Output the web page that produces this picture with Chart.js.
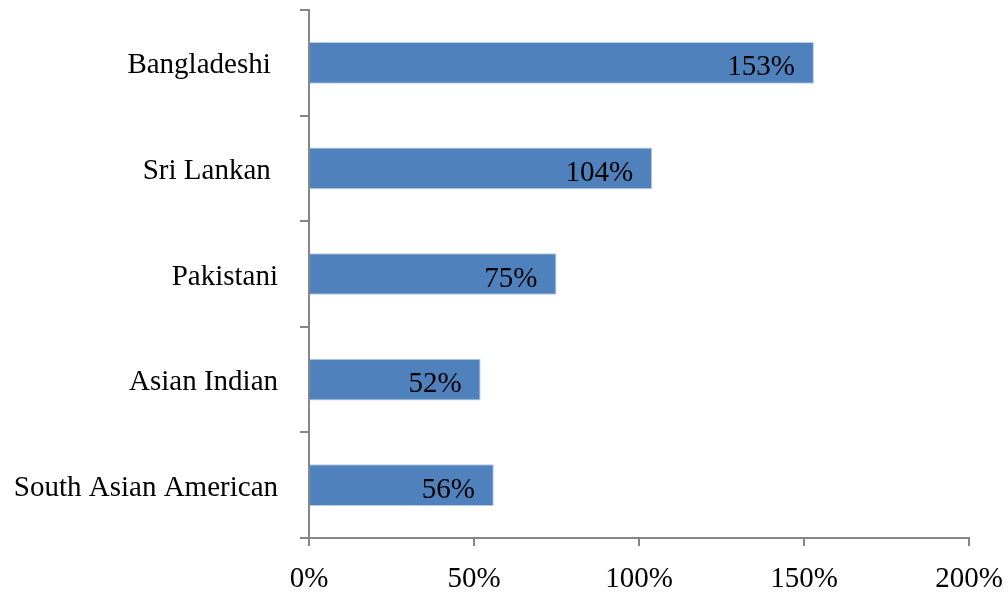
<!DOCTYPE html>
<html>
<head>
<meta charset="utf-8">
<script src="https://cdn.jsdelivr.net/npm/chart.js@4/dist/chart.umd.min.js"></script>
<style>
  html, body { margin: 0; padding: 0; background: #ffffff; }
  #wrap { width: 1008px; height: 592px; position: relative; }
</style>
</head>
<body>
<div id="wrap"><canvas id="c" width="1008" height="592"></canvas></div>
<script>
const categories = ["Bangladeshi ", "Sri Lankan ", "Pakistani", "Asian Indian", "South Asian American"];
const values = [153, 104, 75, 52, 56];
const xTicks = [0, 50, 100, 150, 200];

const FONT = "'Liberation Serif', 'DejaVu Serif', serif";
const AXIS = "#868686";

const valueLabels = {
  id: 'valueLabels',
  afterDatasetsDraw(chart) {
    const ctx = chart.ctx;
    const meta = chart.getDatasetMeta(0);
    ctx.save();
    ctx.font = "29px " + FONT;
    ctx.fillStyle = "#000000";
    ctx.textAlign = "right";
    ctx.textBaseline = "middle";
    meta.data.forEach((bar, i) => {
      ctx.fillText(values[i] + "%", bar.x - 19, bar.y + 5);
    });
    ctx.restore();
  }
};

new Chart(document.getElementById('c'), {
  type: 'bar',
  data: {
    labels: categories,
    datasets: [{
      data: values,
      backgroundColor: "#4F81BD",
      borderColor: "#B9CDE5",
      borderWidth: 1,
      borderSkipped: 'start',
      barPercentage: 0.395,
      categoryPercentage: 1.0
    }]
  },
  options: {
    indexAxis: 'y',
    responsive: false,
    animation: false,
    devicePixelRatio: 1,
    layout: { padding: { top: 10, right: 39, left: 0, bottom: 0 } },
    plugins: { legend: { display: false }, tooltip: { enabled: false } },
    scales: {
      x: {
        min: 0, max: 200,
        afterBuildTicks(axis) { axis.ticks = xTicks.map(v => ({ value: v })); },
        afterFit(axis) { axis.height = 54; axis.paddingLeft = 0; axis.paddingRight = 0; },
        border: { color: AXIS, width: 2 },
        grid: { drawOnChartArea: false, drawTicks: true, tickLength: 8, color: AXIS, lineWidth: 2 },
        ticks: {
          padding: 16,
          color: "#000000",
          font: { family: FONT, size: 29 },
          callback: (v) => v + "%",
          maxRotation: 0
        }
      },
      y: {
        afterFit(axis) { axis.width = 309; axis.paddingTop = 0; axis.paddingBottom = 0; },
        border: { color: AXIS, width: 2 },
        grid: { offset: true, drawOnChartArea: false, drawTicks: true, tickLength: 9, color: AXIS, lineWidth: 2 },
        ticks: {
          padding: 22,
          labelOffset: 3,
          color: "#000000",
          font: { family: FONT, size: 29 }
        }
      }
    }
  },
  plugins: [valueLabels]
});
</script>
</body>
</html>
